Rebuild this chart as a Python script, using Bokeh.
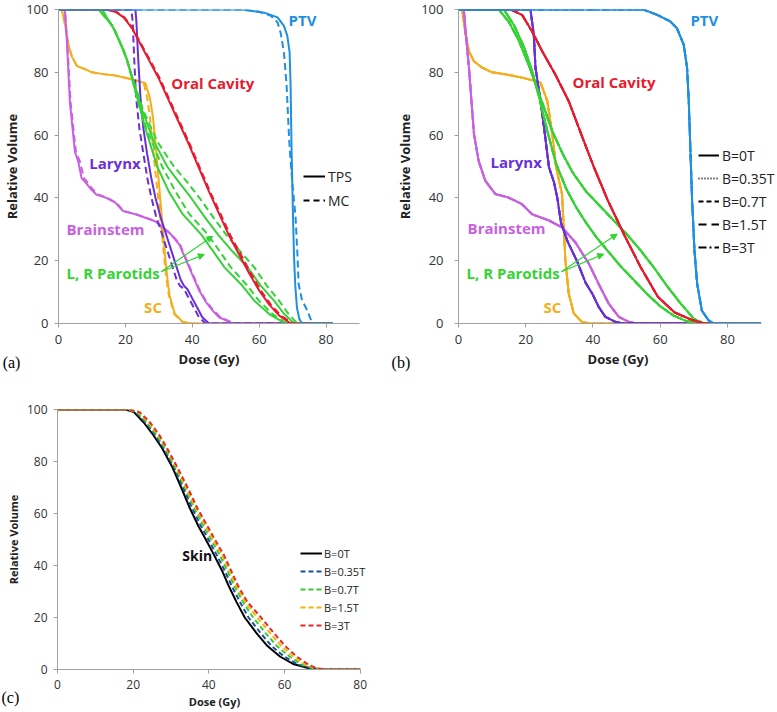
from bokeh.plotting import figure
from bokeh.layouts import row, column
from bokeh.models import Legend, LegendItem, Label, Arrow, NormalHead, Range1d, FixedTicker
from bokeh.embed import file_html
from bokeh.resources import INLINE

# ---------------- data: panel (a) TPS vs MC ----------------
a_ptv_tps_dose = [0, 55, 61.5, 65.5, 67.4, 68.4, 69.1, 69.4, 69.7, 69.9, 70.1, 70.4, 70.8, 71.3, 72.0, 72.8, 82]
a_ptv_tps_vol = [100, 100, 99, 97.5, 94.8, 91.7, 86.4, 75.9, 54.7, 45, 35, 22, 12, 5, 1.5, 0, 0]
a_ptv_mc_dose = [0, 55, 60, 63.5, 65.5, 66.4, 67.4, 68.2, 68.9, 69.2, 69.9, 70.9, 71.4, 71.8, 72.8, 74.4, 75.9, 82]
a_ptv_mc_vol = [100, 100, 99.3, 98, 95.9, 92.7, 86.4, 75.9, 60.1, 54.7, 45, 33.6, 23, 12.6, 7.5, 4.1, 0, 0]

a_oral_tps_dose = [0, 14, 17, 19.5, 22, 24.5, 27, 30, 33, 36, 39, 42, 45, 48, 51, 54, 57, 60, 63, 66, 69.5, 82]
a_oral_tps_vol = [100, 100, 99.3, 97.5, 94, 89, 84, 78, 71, 64, 57, 49.5, 42, 35, 28, 22, 16, 10.5, 6, 2.5, 0, 0]
a_oral_mc_dose = [0, 14, 17.2, 19.7, 22.2, 24.7, 27.3, 30.3, 33.3, 36.3, 39.3, 42.3, 45.3, 48.4, 51.4, 54.5, 57.5, 60.5, 63.5, 66.5, 70, 82]
a_oral_mc_vol = [100, 100, 99.3, 97.5, 94, 89, 84, 78, 71, 64, 57, 49.5, 42, 35, 28, 22, 16, 10.5, 6, 2.5, 0, 0]

a_parA_tps_dose = [0, 13, 17, 20.5, 23.5, 26, 29.5, 33, 37, 42.7, 49.7, 55, 58.6, 63, 67, 68.5, 82]
a_parA_mc_dose = [0, 13, 17, 20.5, 23.5, 26.3, 31, 35, 39, 44.7, 51.6, 56.5, 60, 64, 67.5, 69.5, 82]
a_parA_vol = [100, 100, 93, 84, 72, 62, 50, 42, 35, 28.3, 17.8, 12, 7.2, 3, 0.5, 0, 0]
a_parB_tps_dose = [0, 12, 16, 19.5, 22.5, 25, 28.5, 32.5, 36, 40, 44, 47.7, 52, 56.6, 60.5, 64.5, 67.5, 70, 71, 82]
a_parB_mc_dose = [0, 12, 16, 19.5, 22.5, 25.3, 29.5, 34.5, 38.5, 42.5, 46.5, 50.1, 54.3, 58.6, 62.3, 66, 68.8, 71, 72, 82]
a_parB_vol = [100, 100, 95, 87, 77, 68, 58, 50, 45, 39.5, 33.5, 28.3, 23, 17.8, 12, 7.2, 3, 0.5, 0, 0]

a_lar_tps_dose = [0, 23.0, 23.3, 23.8, 24.5, 25.4, 26.5, 27.8, 29.0, 30.5, 32.0, 33.5, 35.0, 36.5, 37.5, 38.5, 40, 41.5, 43, 45, 82]
a_lar_mc_dose = [0, 21.8, 22.2, 22.6, 23.2, 24.2, 25.4, 26.6, 27.8, 29.2, 30.8, 32.3, 33.8, 35.3, 36.3, 37.5, 39, 40.5, 42, 44, 82]
a_lar_vol = [100, 100, 96, 85, 72, 62, 54, 46, 40, 34, 29, 24, 19, 14, 12, 11, 8, 5, 2, 0, 0]

a_bs_tps_dose = [0, 1.9, 2.5, 3.4, 4.9, 5.9, 6.9, 8, 9.5, 11.3, 14.3, 17, 19.3, 23, 26.2, 29, 31.2, 33.5, 36.1, 39.1, 42.1, 44, 46.1, 48, 50.1, 52, 82]
a_bs_mc_dose = [0, 1.9, 2.6, 3.6, 5.2, 6.4, 7.6, 8.6, 10, 11.8, 14.6, 17.2, 19.5, 23.2, 26.4, 29.2, 31.4, 33.7, 36.3, 39.3, 42.3, 44.2, 46.4, 48.4, 50.5, 52.5, 82]
a_bs_vol = [100, 100, 90, 70.6, 54.7, 51.6, 46.3, 45, 43, 41.1, 40, 38.5, 35.8, 34.8, 33.6, 32.5, 30.5, 28.5, 25.2, 17.8, 10.4, 7, 4.1, 2, 1, 0, 0]

a_sc_tps_dose = [0, 1, 2, 3, 4, 5.5, 7.9, 10, 12.9, 16.9, 20.9, 23.8, 26, 27.3, 28.2, 28.8, 29.6, 30.4, 31.2, 32.0, 32.6, 33.2, 34.8, 37.2, 40, 82]
a_sc_mc_dose = [0, 1, 2, 3, 4, 5.5, 7.9, 10, 12.9, 16.9, 20.9, 23.8, 25.5, 26.5, 27.3, 27.9, 28.8, 29.8, 30.8, 31.7, 32.3, 33.0, 34.6, 37, 40, 82]
a_sc_vol = [100, 100, 95, 88.6, 85, 82, 81, 80, 79.5, 79, 78, 77.2, 76.5, 72, 66, 60, 50, 40, 30, 20, 14, 9, 3, 0.5, 0, 0]

# ---------------- data: panel (b) magnetic field (curves coincide for all B) ----------------
field_labels = ["B=0T", "B=0.35T", "B=0.7T", "B=1.5T", "B=3T"]

b_ptv_dose = [0, 55, 59.1, 63, 65, 67, 68, 68.5, 69, 69.5, 70.2, 71, 72.4, 74.4, 75.9, 90]
b_ptv_vol = [100, 100, 98.3, 96.2, 94, 88.8, 81.4, 70.8, 54.9, 39, 23.2, 12.6, 4.1, 1, 0, 0]
b_oral_dose = [0, 15.5, 18.9, 21.9, 24.9, 28.8, 32.8, 36.5, 40.2, 44.5, 49.5, 54.2, 59.3, 64.3, 69.3, 73, 90]
b_oral_vol = [100, 100, 98.3, 93, 86.7, 79.3, 70.8, 60.3, 50, 39, 27.8, 17.9, 8.5, 3.5, 1.2, 0, 0]
b_parU_dose = [0, 12, 15, 18, 21, 23, 25, 28, 31, 34, 38, 42, 46, 50, 54, 58, 62, 66, 70, 73, 90]
b_parU_vol = [100, 100, 96, 90, 82, 76, 70, 61, 54, 48, 42, 37.5, 33, 28.5, 23.5, 18, 12, 6.5, 1.5, 0, 0]
b_parL_dose = [0, 13.5, 16.5, 19.5, 22, 24, 26.5, 29, 32, 35, 38, 41, 44.5, 48, 52, 56, 60, 64, 68, 71, 90]
b_parL_vol = [100, 100, 95, 88, 80, 72, 61, 51, 43, 37, 32, 27.5, 23, 18.5, 14, 9.5, 5.5, 2.5, 0.7, 0, 0]
b_lar_dose = [0, 21.4, 22.4, 22.9, 24.4, 25.7, 26.9, 28.4, 29.4, 30.5, 32.5, 35.2, 37.8, 39.8, 41.7, 43.7, 46.7, 49, 90]
b_lar_vol = [100, 100, 92, 81.5, 70.9, 60.3, 49.8, 45, 40, 32, 26, 20, 13, 9.5, 5.3, 2.1, 0.5, 0, 0]
b_bs_dose = [0, 1.6, 2.2, 3.1, 4.6, 6, 8, 11, 14.9, 18.9, 21.9, 26.9, 30.8, 34.8, 38.8, 41.7, 44.7, 47.7, 50.7, 53, 90]
b_bs_vol = [100, 100, 92, 81.5, 60.3, 51.7, 45.4, 41.2, 40.1, 38, 34.8, 32.8, 30.6, 25.8, 19, 12.6, 6.3, 2.1, 0.5, 0, 0]
b_sc_dose = [0, 1.1, 2.1, 3.1, 4.6, 7, 10, 13.9, 18.9, 22.9, 24.4, 26.4, 27.9, 29.0, 30.8, 31.3, 31.8, 32.8, 34.3, 36.7, 39, 90]
b_sc_vol = [100, 100, 92, 86.7, 83.5, 81.5, 80, 79.4, 78.3, 77.2, 76.7, 70.9, 60.3, 50, 41.2, 30.6, 20, 9.5, 3.2, 0.5, 0, 0]

# ---------------- data: panel (c) skin ----------------
skin_vol = [100, 100, 99, 95, 90, 85, 78, 70, 62, 55, 50, 44, 38, 32, 26, 20, 14, 9, 5, 2, 0.5, 0, 0]
skin_dose_0T = [0, 18, 20.2, 22.8, 25.4, 27.7, 30.3, 32.7, 35.0, 37.3, 39.2, 41.4, 43.5, 45.3, 47.3, 49.5, 52.6, 55.5, 58.8, 62.5, 66.5, 69.5, 80]
skin_dose_035T = [0, 18.2, 20.6, 23.3, 25.9, 28.1, 30.7, 33.2, 35.6, 38.0, 39.9, 42.1, 44.2, 46.1, 48.2, 50.5, 53.7, 56.6, 59.9, 63.4, 67.1, 70.0, 80]
skin_dose_07T = [0, 18.5, 21.0, 23.7, 26.3, 28.5, 31.0, 33.7, 36.2, 38.7, 40.6, 42.9, 44.9, 46.8, 49.0, 51.7, 55.0, 58.0, 61.3, 64.5, 67.6, 70.4, 80]
skin_dose_15T = [0, 18.8, 21.4, 24.1, 26.7, 28.8, 31.3, 34.0, 36.6, 39.2, 41.1, 43.5, 45.4, 47.3, 49.6, 52.8, 56.2, 59.2, 62.3, 65.4, 68.1, 70.7, 80]
skin_dose_3T = [0, 19, 21.7, 24.5, 27.0, 29.0, 31.6, 34.4, 37.0, 39.7, 41.6, 44.0, 45.9, 47.8, 50.2, 53.8, 57.2, 60.2, 63.2, 66.2, 68.5, 71.0, 80]

y_ticks = [0, 20, 40, 60, 80, 100]
x_ticks = [0, 20, 40, 60, 80]

# ---------------- styles ----------------
FONT = "Open Sans"
C_PTV = "#1f8fe0"
C_ORAL = "#e81a2e"
C_PAR = "#35d335"
C_LAR = "#6a30d8"
C_BS = "#c95fe2"
C_SC = "#f4ae1e"
AXIS_C = "#a0a0a0"


def make_fig(width, height, xmax, axis_max, bl, br, bt, bb, tick_fs, lab_fs):
    p = figure(width=width, height=height, x_range=Range1d(0, xmax), y_range=Range1d(0, 100),
               output_backend="svg", toolbar_location=None,
               min_border_left=bl, min_border_right=br, min_border_top=bt, min_border_bottom=bb)
    p.outline_line_color = None
    p.grid.visible = False
    p.xaxis.bounds = (0, axis_max)
    p.xaxis.ticker = FixedTicker(ticks=x_ticks)
    p.yaxis.ticker = FixedTicker(ticks=y_ticks)
    p.axis.axis_line_color = AXIS_C
    p.axis.major_tick_line_color = AXIS_C
    p.axis.major_tick_out = 4
    p.axis.major_tick_in = 0
    p.axis.minor_tick_line_color = None
    p.axis.major_label_text_font = FONT
    p.axis.major_label_text_font_size = tick_fs
    p.axis.major_label_text_color = "#333333"
    p.axis.axis_label_text_font = FONT
    p.axis.axis_label_text_font_style = "bold"
    p.axis.axis_label_text_font_size = lab_fs
    p.axis.axis_label_text_color = "#222222"
    p.xaxis.axis_label = "Dose (Gy)"
    p.yaxis.axis_label = "Relative Volume"
    p.yaxis.major_label_standoff = 6
    p.xaxis.major_label_standoff = 7
    p.yaxis.axis_label_standoff = 2
    p.xaxis.axis_label_standoff = 3
    return p


def tag(p, x, y, text, color, size="15px", bold=True, font=FONT):
    p.add_layout(Label(x=x, y=y, text=text, text_color=color, text_font=font,
                       text_font_size=size, text_font_style="bold" if bold else "normal",
                       text_baseline="middle", text_align="left"))


def panel_tag(p, x, y, text, side):
    lab = Label(x=x, y=y, text=text, text_color="#000000", text_font="Liberation Serif",
                text_font_size="16px", text_baseline="middle", text_align="left")
    p.add_layout(lab, side)


def arrows(p, x0, y0, tips):
    for (x1, y1) in tips:
        p.add_layout(Arrow(end=NormalHead(size=6, fill_color=C_PAR, line_color=C_PAR),
                           x_start=x0, y_start=y0, x_end=x1, y_end=y1,
                           line_color=C_PAR, line_width=1.2))


LW = 2
DASH = "7 4"

# ---------------- panel (a) ----------------
pa = make_fig(390, 390, 90, 90, 57, 31, 9, 67, "13px", "13px")
pairs_a = [
    (a_sc_tps_dose, a_sc_mc_dose, a_sc_vol, a_sc_vol, C_SC),
    (a_bs_tps_dose, a_bs_mc_dose, a_bs_vol, a_bs_vol, C_BS),
    (a_lar_tps_dose, a_lar_mc_dose, a_lar_vol, a_lar_vol, C_LAR),
    (a_parA_tps_dose, a_parA_mc_dose, a_parA_vol, a_parA_vol, C_PAR),
    (a_parB_tps_dose, a_parB_mc_dose, a_parB_vol, a_parB_vol, C_PAR),
    (a_oral_tps_dose, a_oral_mc_dose, a_oral_tps_vol, a_oral_mc_vol, C_ORAL),
    (a_ptv_tps_dose, a_ptv_mc_dose, a_ptv_tps_vol, a_ptv_mc_vol, C_PTV),
]
for td, md, tv, mv, c in pairs_a:
    pa.line(td, tv, line_color=c, line_width=LW)
    pa.line(md, mv, line_color=c, line_width=LW, line_dash=DASH)

leg_tps = pa.line(a_ptv_tps_dose, a_ptv_tps_vol, line_color="black", line_width=2, visible=False)
leg_mc = pa.line(a_ptv_mc_dose, a_ptv_mc_vol, line_color="black", line_width=2, line_dash="6 4", visible=False)
leg_a = Legend(items=[LegendItem(label="TPS", renderers=[leg_tps]), LegendItem(label="MC", renderers=[leg_mc])],
               location=(245, 113), padding=0, margin=0, spacing=4, glyph_width=22, glyph_height=20,
               label_height=20, label_standoff=3, background_fill_alpha=0, border_line_color=None,
               label_text_font=FONT, label_text_font_size="14px", label_text_color="#222222")
pa.add_layout(leg_a)

tag(pa, 68.8, 96.5, "PTV", C_PTV)
tag(pa, 33.7, 76.6, "Oral Cavity", C_ORAL)
tag(pa, 9.2, 51.1, "Larynx", C_LAR)
tag(pa, 2.4, 30.2, "Brainstem", C_BS)
tag(pa, 2.4, 16.0, "L, R Parotids", C_PAR)
tag(pa, 25.6, 5.2, "SC", C_SC)
arrows(pa, 30.7, 16.5, [(46.1, 27.8), (43.6, 22.0)])
panel_tag(pa, -16.7, -12.3, "(a)", "right")

# ---------------- panel (b) ----------------
pb = make_fig(387, 390, 94.9, 90, 68, 0, 9, 67, "13px", "13px")
pb.yaxis.major_label_standoff = 11
pb.yaxis.axis_label_standoff = 4
dashes_b = ["solid", "1 2", "5 3", "8 5", "8 3 2 3"]
struct_b = [
    (b_sc_dose, b_sc_vol, C_SC), (b_bs_dose, b_bs_vol, C_BS), (b_lar_dose, b_lar_vol, C_LAR),
    (b_parL_dose, b_parL_vol, C_PAR), (b_parU_dose, b_parU_vol, C_PAR),
    (b_oral_dose, b_oral_vol, C_ORAL), (b_ptv_dose, b_ptv_vol, C_PTV),
]
for d, v, c in struct_b:
    for dash in dashes_b:
        pb.line(d, v, line_color=c, line_width=LW, line_dash=dash)

items_b = []
for lab, dash in zip(field_labels, dashes_b):
    r = pb.line(b_ptv_dose, b_ptv_vol, line_color="black", line_width=2, line_dash=dash, visible=False)
    items_b.append(LegendItem(label=lab, renderers=[r]))
leg_b = Legend(items=items_b, location=(240, 66), padding=0, margin=0, spacing=3, glyph_width=21,
               glyph_height=20, label_height=20, label_standoff=3, background_fill_alpha=0,
               border_line_color=None, label_text_font=FONT, label_text_font_size="14px",
               label_text_color="#222222")
pb.add_layout(leg_b)

tag(pb, 69.0, 96.7, "PTV", C_PTV)
tag(pb, 33.9, 76.8, "Oral Cavity", C_ORAL)
tag(pb, 9.5, 51.3, "Larynx", C_LAR)
tag(pb, 2.7, 30.3, "Brainstem", C_BS)
tag(pb, 2.4, 16.0, "L, R Parotids", C_PAR)
tag(pb, 25.3, 5.2, "SC", C_SC)
arrows(pb, 30.6, 16.5, [(47.2, 28.5), (43.2, 22.1)])
panel_tag(pb, -19.9, -12.3, "(b)", "below")

# ---------------- panel (c) ----------------
pc = make_fig(392, 322, 83, 80, 57, 21, 19, 43, "12px", "11px")
pc.xaxis.major_label_standoff = 6
pc.xaxis.axis_label_standoff = 2
pc.yaxis.axis_label_standoff = 3
skin_series = [
    (skin_dose_0T, "black", "solid"), (skin_dose_035T, "#1f4e9c", "5 3"),
    (skin_dose_07T, "#35cc35", "5 3"), (skin_dose_15T, "#f5b400", "5 3"), (skin_dose_3T, "#e52b2b", "5 3"),
]
items_c = []
for (d, c, dash), lab in zip(skin_series, field_labels):
    r = pc.line(d, skin_vol, line_color=c, line_width=2, line_dash=dash)
    items_c.append(LegendItem(label=lab, renderers=[r]))
leg_c = Legend(items=items_c, location=(243, 36), padding=0, margin=0, spacing=2, glyph_width=22,
               glyph_height=16, label_height=16, label_standoff=2, background_fill_alpha=0,
               border_line_color=None, label_text_font=FONT, label_text_font_size="11px",
               label_text_color="#222222")
pc.add_layout(leg_c)
tag(pc, 33.0, 43.9, "Skin", "#111111", size="14px")
panel_tag(pc, -14.8, -10.8, "(c)", "right")

layout = column(row(pa, pb), pc)
open("out.html", "w").write(file_html(layout, INLINE))
